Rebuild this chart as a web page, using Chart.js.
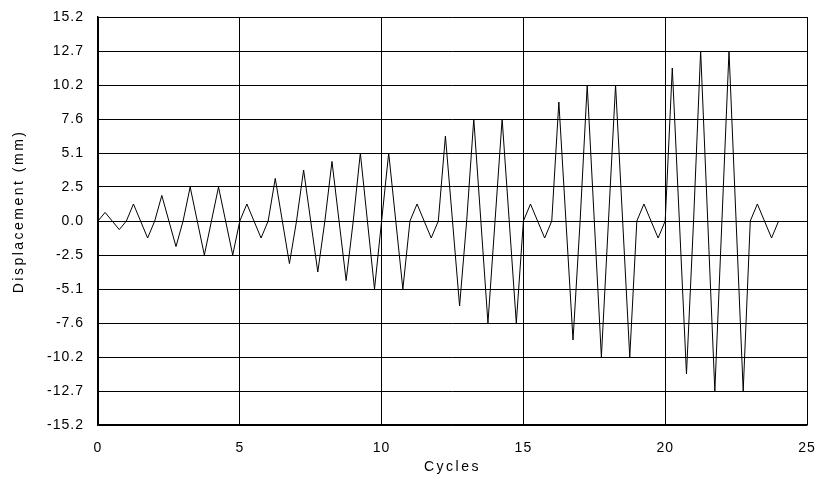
<!DOCTYPE html>
<html>
<head>
<meta charset="utf-8">
<script src="https://cdn.jsdelivr.net/npm/chart.js@4"></script>
<style>
  html, body { margin: 0; padding: 0; background: #fff; }
  canvas { display: block; }
</style>
</head>
<body>
<canvas id="loadingChart" width="817" height="485"></canvas>
<script>
// load protocol, one point every quarter cycle
var cycles = [
    0, 0.25, 0.5, 0.75, 1, 1.25, 1.5, 1.75, 2, 2.25, 2.5, 2.75,
    3, 3.25, 3.5, 3.75, 4, 4.25, 4.5, 4.75, 5, 5.25, 5.5, 5.75,
    6, 6.25, 6.5, 6.75, 7, 7.25, 7.5, 7.75, 8, 8.25, 8.5, 8.75,
    9, 9.25, 9.5, 9.75, 10, 10.25, 10.5, 10.75, 11, 11.25, 11.5, 11.75,
    12, 12.25, 12.5, 12.75, 13, 13.25, 13.5, 13.75, 14, 14.25, 14.5, 14.75,
    15, 15.25, 15.5, 15.75, 16, 16.25, 16.5, 16.75, 17, 17.25, 17.5, 17.75,
    18, 18.25, 18.5, 18.75, 19, 19.25, 19.5, 19.75, 20, 20.25, 20.5, 20.75,
    21, 21.25, 21.5, 21.75, 22, 22.25, 22.5, 22.75, 23, 23.25, 23.5, 23.75,
    24
];
var displacement = [
    0, 0.64, 0, -0.64, 0, 1.27, 0, -1.27, 0, 1.91, 0, -1.91,
    0, 2.54, 0, -2.54, 0, 2.54, 0, -2.54, 0, 1.27, 0, -1.27,
    0, 3.18, 0, -3.18, 0, 3.81, 0, -3.81, 0, 4.45, 0, -4.45,
    0, 5.08, 0, -5.08, 0, 5.08, 0, -5.08, 0, 1.27, 0, -1.27,
    0, 6.35, 0, -6.35, 0, 7.62, 0, -7.62, 0, 7.62, 0, -7.62,
    0, 1.27, 0, -1.27, 0, 8.89, 0, -8.89, 0, 10.16, 0, -10.16,
    0, 10.16, 0, -10.16, 0, 1.27, 0, -1.27, 0, 11.43, 0, -11.43,
    0, 12.7, 0, -12.7, 0, 12.7, 0, -12.7, 0, 1.27, 0, -1.27,
    0
];
var xTicks = [0, 5, 10, 15, 20, 25];
var yTicks = [-15.24, -12.7, -10.16, -7.62, -5.08, -2.54, 0, 2.54, 5.08, 7.62, 10.16, 12.7, 15.24];

var points = cycles.map(function (c, i) { return { x: c, y: displacement[i] }; });

// titles get wide spacing, tick labels a little
var spacingPlugin = {
    id: "spacing",
    beforeDraw: function (chart) { chart.ctx.letterSpacing = "2.5px"; },
    beforeDatasetsDraw: function (chart) { chart.ctx.letterSpacing = "1px"; }
};

Chart.defaults.font.family = "'Liberation Sans', Arial, sans-serif";
Chart.defaults.font.size = 14;
Chart.defaults.color = "#000";

var ctx = document.getElementById("loadingChart").getContext("2d");
new Chart(ctx, {
    type: "line",
    data: {
        datasets: [{
            data: points,
            borderColor: "#000",
            borderWidth: 1,
            pointRadius: 0,
            tension: 0,
            fill: false
        }]
    },
    plugins: [spacingPlugin],
    options: {
        responsive: false,
        animation: false,
        layout: { padding: { top: 17, right: 10, left: 0, bottom: 0 } },
        plugins: { legend: { display: false }, tooltip: { enabled: false } },
        scales: {
            x: {
                type: "linear",
                min: 0,
                max: 25,
                afterBuildTicks: function (scale) {
                    scale.ticks = xTicks.map(function (v) { return { value: v }; });
                },
                afterFit: function (scale) {
                    scale.height = 60;
                    scale.paddingLeft = 0;
                    scale.paddingRight = 0;
                },
                grid: { color: "#000", lineWidth: 1, drawTicks: false },
                border: { color: "#000", width: 1.5 },
                ticks: { padding: 15, maxRotation: 0, z: 1 },
                title: { display: true, text: "Cycles", padding: { top: 0, bottom: 9 } }
            },
            y: {
                type: "linear",
                min: -15.24,
                max: 15.24,
                afterBuildTicks: function (scale) {
                    scale.ticks = yTicks.map(function (v) { return { value: v }; });
                },
                afterFit: function (scale) {
                    scale.width = 98;
                    scale.paddingTop = 0;
                    scale.paddingBottom = 0;
                },
                grid: { color: "#000", lineWidth: 1, drawTicks: false },
                border: { color: "#000", width: 1.5 },
                ticks: {
                    padding: 14,
                    z: 1,
                    callback: function (v) { return v.toFixed(1); }
                },
                title: { display: true, text: "   Displacement (mm)", padding: { top: 11, bottom: 0 } }
            }
        }
    }
});
</script>
</body>
</html>
